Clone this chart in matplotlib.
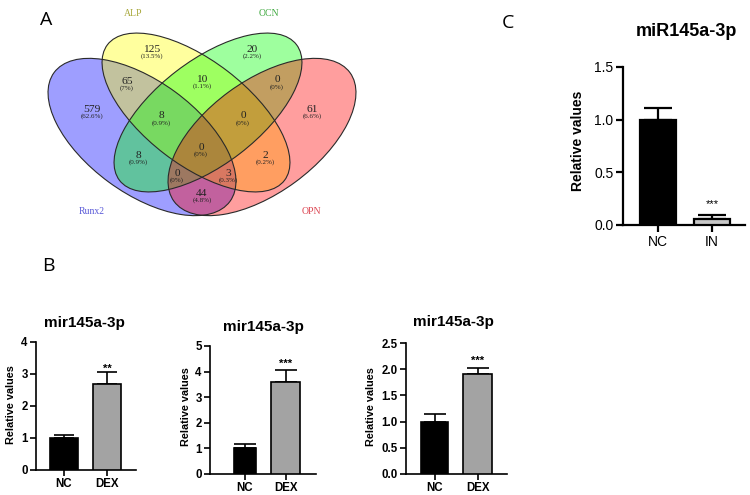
import matplotlib
matplotlib.use("Agg")
import matplotlib.pyplot as plt
from matplotlib.patches import Ellipse
import numpy as np

plt.rcParams['font.family'] = ['Liberation Sans', 'DejaVu Sans']

W, H = 750, 495

# ---------------- Data ----------------
venn_sets = ["Runx2", "ALP", "OCN", "OPN"]
venn_counts = [579, 125, 20, 61, 65, 10, 0, 8, 8, 0, 0, 2, 0, 3, 44]
venn_percents = ["62.6%", "13.5%", "2.2%", "6.6%", "7%", "1.1%", "0%", "0.9%",
                 "0.9%", "0%", "0%", "0.2%", "0%", "0.3%", "4.8%"]

b_groups = ["NC", "DEX"]
b_title = "mir145a-3p"
b1_values = [1.0, 2.68]
b1_errors = [0.10, 0.37]
b1_sig = "**"
b2_values = [1.0, 3.58]
b2_errors = [0.17, 0.48]
b2_sig = "***"
b3_values = [1.0, 1.90]
b3_errors = [0.14, 0.13]
b3_sig = "***"

c_groups = ["NC", "IN"]
c_title = "miR145a-3p"
c_values = [1.0, 0.06]
c_errors = [0.11, 0.035]
c_sig = "***"

ylabel_text = "Relative values"

# ---------------- Layout / style ----------------
venn_fill = ["#0000ff", "#ffff00", "#00ff00", "#ff0000"]
venn_label_colors = ["#5a5ad8", "#a8a83c", "#3ea83e", "#dc4652"]
# ellipse geometry in pixel space: (cx, cy, width, height, angle)
venn_geom = [(142, 137, 218, 112, 36.2),
             (196, 112.5, 223, 104, 37.5),
             (208, 112.5, 223, 104, -37.5),
             (262, 137, 218, 112, -36.2)]
venn_label_xy = [(92, 212), (133, 14), (269, 14), (311, 212)]
venn_region_xy = [(92, 109), (152, 49), (252, 49), (312, 109), (127, 81),
                  (202, 79), (277, 80), (161, 116), (138, 155), (243, 116),
                  (201, 147), (265, 155), (177, 173), (228, 173), (202, 193)]

fig = plt.figure(figsize=(7.5, 4.95), dpi=100)
bg = fig.add_axes([0, 0, 1, 1], zorder=0)
bg.set_xlim(0, W)
bg.set_ylim(H, 0)
bg.axis('off')

# Venn ellipses
for (cx, cy, w, h, ang), col in zip(venn_geom, venn_fill):
    bg.add_patch(Ellipse((cx, cy), w, h, angle=ang, facecolor=col, alpha=0.38,
                         edgecolor='none'))
for (cx, cy, w, h, ang) in venn_geom:
    bg.add_patch(Ellipse((cx, cy), w, h, angle=ang, facecolor='none',
                         edgecolor='#2a2a2a', linewidth=0.8))

serif = ['Liberation Serif', 'DejaVu Serif']
for (x, y), n, p in zip(venn_region_xy, venn_counts, venn_percents):
    bg.text(x, y, str(n), ha='center', va='center', fontsize=8.2,
            family=serif, color='#222222')
    bg.text(x, y + 7, "(" + p + ")", ha='center', va='center', fontsize=5,
            family=serif, color='#222222')
for (x, y), name, col in zip(venn_label_xy, venn_sets, venn_label_colors):
    bg.text(x, y, name, ha='center', va='center', fontsize=7, family=serif,
            color=col)

# panel letters
for (x, y), letter in zip([(46, 20), (48, 266), (508, 23)], ["A", "B", "C"]):
    bg.text(x, y, letter, ha='center', va='center', fontsize=14,
            family=['Open Sans', 'DejaVu Sans'], color='black')


def px_rect(l, t, r, b):
    return [l / W, 1 - b / H, (r - l) / W, (b - t) / H]


def bar_panel(rect, groups, values, errors, sig, ylim, yticks, yfmt, xlim,
              widths, colors, lw, tick_fs, weight, capsize, sig_dy, sig_fs,
              ticklen):
    ax = fig.add_axes(px_rect(*rect), zorder=2)
    ax.patch.set_alpha(0)
    x = np.arange(len(groups))
    ax.errorbar(x, values, yerr=[np.zeros(len(values)), errors], fmt='none',
                ecolor='black', elinewidth=lw, capsize=capsize, capthick=lw,
                zorder=2)
    ax.bar(x, values, width=widths, color=colors, edgecolor='black',
           linewidth=lw, zorder=3)
    top = np.array(values) + np.array(errors)
    ax.annotate(sig, xy=(x[1], top[1]), xytext=(0, sig_dy),
                textcoords='offset points', ha='center', va='baseline',
                fontsize=sig_fs, fontweight=weight)
    ax.set_xlim(*xlim)
    ax.set_ylim(*ylim)
    ax.set_yticks(yticks)
    ax.set_yticklabels([yfmt.format(v) for v in yticks], fontsize=tick_fs,
                       fontweight=weight)
    ax.set_xticks(x)
    ax.set_xticklabels(groups, fontsize=tick_fs, fontweight=weight)
    for s in ['top', 'right']:
        ax.spines[s].set_visible(False)
    for s in ['left', 'bottom']:
        ax.spines[s].set_linewidth(lw)
    ax.tick_params(direction='out', length=ticklen, width=lw, pad=2)
    return ax


# Panel B1
bar_panel((36, 342, 136, 470), b_groups, b1_values, b1_errors, b1_sig,
          (0, 4), [0, 1, 2, 3, 4], "{:d}", (-0.651, 1.674), [0.65, 0.65],
          ['black', '#a3a3a3'], 1.2, 8.3, 'bold', 7, 0.5, 8, 4)
# Panel B2
bar_panel((210, 346, 316, 474), b_groups, b2_values, b2_errors, b2_sig,
          (0, 5), [0, 1, 2, 3, 4, 5], "{:d}", (-0.864, 1.753), [0.52, 0.716],
          ['black', '#a3a3a3'], 1.2, 8.3, 'bold', 8, 2.5, 8, 4)
# Panel B3
bar_panel((406, 343, 507, 474), b_groups, b3_values, b3_errors, b3_sig,
          (0, 2.5), [0, 0.5, 1.0, 1.5, 2.0, 2.5], "{:.1f}", (-0.663, 1.686),
          [0.63, 0.67], ['black', '#a3a3a3'], 1.2, 8.3, 'bold', 8, 2.5, 8, 4)
# Panel C
bar_panel((623, 67, 745, 225), c_groups, c_values, c_errors, c_sig,
          (0, 1.5), [0, 0.5, 1.0, 1.5], "{:.1f}", (-0.65, 1.61),
          [0.667, 0.667], ['black', '#c8c8c8'], 1.6, 10, 'normal', 10, 6, 8,
          5)

# titles and y labels
for (x, y), t, fs in zip([(84, 323), (263, 327), (453, 322), (686, 32)],
                         [b_title, b_title, b_title, c_title],
                         [11, 11, 11, 13]):
    bg.text(x, y, t, ha='center', va='center', fontsize=fs, fontweight='bold')
for (x, y), fs in zip([(11, 405), (186, 407), (371, 407), (578, 141)],
                      [7.8, 7.8, 7.8, 10]):
    bg.text(x, y, ylabel_text, ha='center', va='center', rotation=90,
            fontsize=fs, fontweight='bold')

fig.savefig("out.png", dpi=100)
